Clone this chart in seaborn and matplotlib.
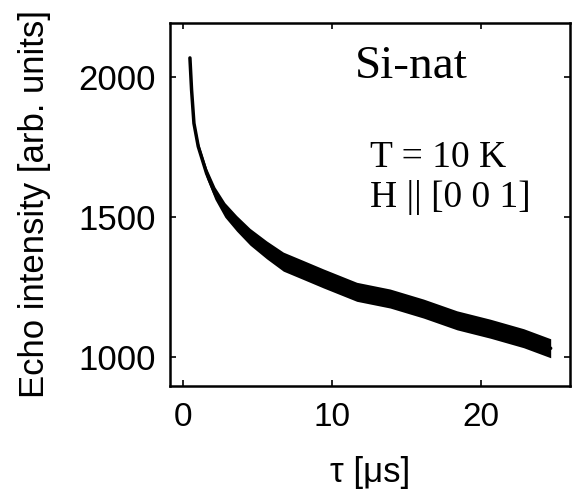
import matplotlib
matplotlib.use("Agg")
import matplotlib.pyplot as plt
import seaborn as sns
import pandas as pd

# --- data ---
tau_us = [0.44, 0.55, 0.71, 1.0, 1.56, 2.12, 2.79, 3.58, 4.48, 5.6, 6.72,
          8.07, 9.41, 11.66, 13.9, 16.15, 18.4, 20.64, 22.88, 24.7]
echo_center = [2069, 1955, 1835, 1752, 1656, 1585, 1525, 1477, 1429, 1382, 1340,
               1310, 1280, 1232, 1208, 1172, 1130, 1100, 1066, 1030]
noise_halfwidth = [6, 8, 10, 14, 18, 22, 26, 28, 30, 32, 34,
                   34, 34, 34, 34, 34, 34, 34, 34, 34]
x_ticks = [0, 10, 20]
y_ticks = [1000, 1500, 2000]

df = pd.DataFrame({"tau": tau_us, "echo": echo_center})
lower = [c - h for c, h in zip(echo_center, noise_halfwidth)]
upper = [c + h for c, h in zip(echo_center, noise_halfwidth)]

sns.set_style("ticks")
plt.rcParams["font.family"] = ["Liberation Sans", "DejaVu Sans"]
for k in ["text.color", "axes.labelcolor", "xtick.color", "ytick.color", "axes.edgecolor"]:
    plt.rcParams[k] = "black"

fig = plt.figure(figsize=(5.82, 4.92), dpi=100)
ax = fig.add_axes([0.2921, 0.216, 0.6873, 0.7373])

ax.fill_between(tau_us, lower, upper, color="black", linewidth=0)
sns.lineplot(data=df, x="tau", y="echo", ax=ax, color="black", linewidth=2.5)

ax.set_xlim(-0.9, 26.0)
ax.set_ylim(896, 2194)
ax.set_xticks(x_ticks)
ax.set_yticks(y_ticks)
ax.tick_params(axis="both", direction="in", length=4, width=1.2,
               top=True, right=True, color="black")
ax.tick_params(axis="y", labelsize=25, pad=10)
ax.tick_params(axis="x", labelsize=24, pad=12)
for s in ax.spines.values():
    s.set_linewidth(1.8)
    s.set_color("black")

ax.set_xlabel("τ [μs]", fontsize=25, labelpad=16)
ax.set_ylabel("Echo intensity [arb. units]", fontsize=25, labelpad=20)

ax.text(0.4625, 0.848, "Si-nat", transform=ax.transAxes, fontsize=34,
        family="Liberation Serif", va="baseline", ha="left")
ax.text(0.5, 0.603, "T = 10 K", transform=ax.transAxes, fontsize=27,
        family="Liberation Serif", va="baseline", ha="left")
ax.text(0.5, 0.4927, "H || [0 0 1]", transform=ax.transAxes, fontsize=27,
        family="Liberation Serif", va="baseline", ha="left")

fig.savefig("out.png", dpi=100)
